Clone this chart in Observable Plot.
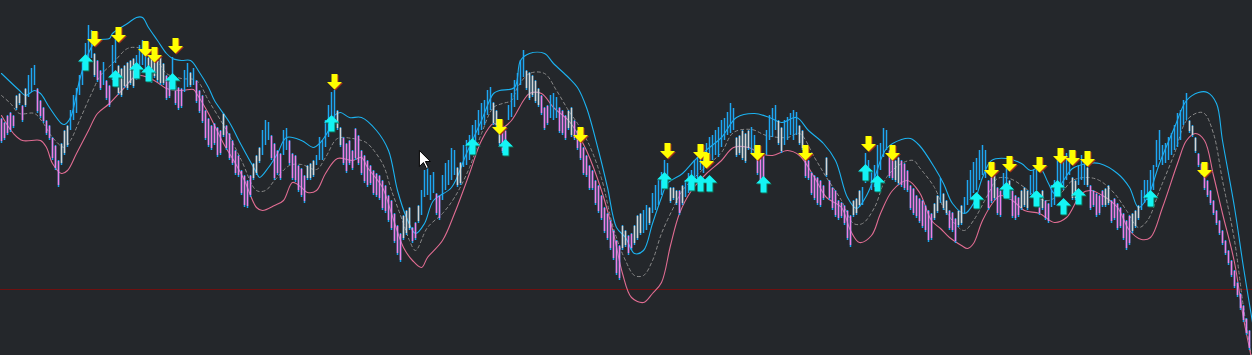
<!DOCTYPE html>
<html>
<head>
<meta charset="utf-8">
<script src="https://cdn.jsdelivr.net/npm/d3@7"></script>
<script src="https://cdn.jsdelivr.net/npm/@observablehq/plot@0.6"></script>
<style>
  html, body { margin: 0; padding: 0; background: #24272b; overflow: hidden; }
  #chart svg { display: block; }
</style>
</head>
<body>
<div id="chart"></div>
<script>
// Bar highs / lows (price in screen units, larger = lower), one bar per index
const hi = [
118,122,115,112,115,95,93,105,88,75,
68,65,88,100,107,120,125,137,145,160,
143,130,125,110,95,88,75,60,43,25,
30,53,60,70,62,80,85,45,35,65,
68,65,62,60,58,55,45,40,50,57,
58,55,60,57,63,75,80,57,85,87,
88,70,63,72,68,80,90,95,110,118,
125,123,127,130,113,125,133,140,150,155,
170,175,180,175,163,155,147,130,120,122,
135,143,150,153,130,128,140,153,155,165,
168,175,165,163,160,155,137,140,120,105,
92,90,110,127,137,143,140,150,128,135,
150,155,160,165,170,173,175,180,185,195,
200,213,225,233,215,210,207,227,222,205,
190,170,167,175,172,193,195,175,163,160,
148,150,167,162,145,140,135,125,120,110,
103,100,90,87,102,110,123,125,130,105,
93,80,73,60,50,70,72,75,80,88,
95,107,105,95,93,97,107,110,115,110,
107,120,130,140,147,155,165,170,180,185,
195,207,213,220,230,240,245,225,230,235,
233,225,215,213,210,205,207,193,185,180,
172,160,163,187,187,190,190,185,180,173,
170,160,157,145,150,143,137,135,130,127,
120,118,112,103,108,137,135,130,133,130,
127,135,153,158,155,130,115,108,105,120,
127,120,117,113,110,112,125,130,155,160,
172,175,177,180,185,157,180,187,190,200,
202,205,210,215,200,198,190,187,153,160,
170,165,145,143,128,130,150,155,160,157,
160,163,170,185,188,195,198,200,205,210,
213,203,195,178,193,200,210,212,218,210,
205,197,180,170,162,158,150,145,150,180,
177,175,187,190,173,168,180,190,195,197,
190,187,190,175,170,165,195,190,200,203,
185,180,160,153,160,153,150,177,180,165,
155,160,167,185,190,193,195,190,188,185,
200,198,203,207,213,220,215,213,210,205,
190,180,180,170,165,140,130,145,143,137,
133,125,113,110,100,93,120,125,137,153,
163,173,180,190,200,210,220,230,240,250,
260,270,282,293,305,318,330
];
const lo = [
143,140,135,132,128,110,105,122,107,97,
92,85,113,118,123,135,140,160,170,187,
165,155,147,130,120,113,95,85,67,60,
58,77,82,90,85,100,107,80,63,95,
97,88,90,85,88,80,75,65,72,80,
83,78,82,85,85,100,98,85,105,110,
108,92,87,87,85,103,113,123,140,147,
150,145,157,155,137,150,160,165,175,177,
195,207,208,197,180,175,163,155,145,140,
160,180,175,180,155,150,165,180,182,192,
197,203,180,180,177,165,160,160,147,137,
130,125,130,147,165,173,165,170,160,165,
175,183,187,185,195,197,200,210,213,222,
230,243,255,262,240,235,230,243,240,223,
215,197,195,200,193,215,220,200,190,185,
180,175,187,185,167,165,160,147,145,135,
130,125,115,110,125,127,145,153,150,120,
117,107,100,85,77,90,100,97,103,107,
115,130,125,118,120,118,133,135,140,130,
137,140,150,160,175,177,190,190,205,213,
220,233,240,250,260,275,280,250,247,255,
250,245,240,235,233,230,225,213,210,205,
195,185,187,203,200,205,215,205,197,193,
190,183,178,170,173,165,167,160,155,157,
147,140,135,133,130,157,155,160,163,150,
153,153,175,183,180,155,140,137,130,145,
153,145,140,135,140,135,145,150,178,180,
195,200,205,207,200,177,200,210,217,220,
218,225,240,247,217,215,207,205,183,180,
190,187,177,170,157,150,178,180,182,185,
187,190,192,210,215,218,223,228,232,242,
240,220,213,203,210,215,230,232,243,227,
225,213,205,198,193,190,180,175,178,210,
203,200,215,217,195,197,200,218,220,217,
210,207,210,195,197,190,215,210,220,223,
207,205,193,185,190,180,175,200,200,185,
180,185,187,210,207,217,215,207,207,205,
223,220,230,228,240,250,245,233,228,220,
210,203,200,193,190,167,160,165,163,160,
155,150,147,140,125,120,133,137,153,167,
175,190,197,205,215,225,235,245,255,265,
277,288,297,310,322,335,350
];
// trend code per bar: b = up (blue), p = down (violet), w = neutral (white)
const trendCodes = (
"pppppwwpwb" + "bbpppppppp" + "wwwbbbbbbb" + "bwppbppbbw" + "wwwwwbbbbw" +
"wwwwwppbpp" + "pbbwbppppp" + "ppppwppppp" + "ppppwwwbbb" + "ppppbbpppp" +
"ppwwwbbbbb" + "bbwwpppppp" + "pppppppppp" + "ppppwwwppw" + "bbbbbppbbb" +
"bbwwbbbbbb" + "bbbbwwwppb" + "bbbbbwwwww" + "pppbbbpppw" + "wppppppppp" +
"pppppppwwp" + "pwwwbbwbbb" + "bbbwwwpwbb" + "bbbbbbbbbb" + "bbbbbwwwww" +
"bbpppbbbbw" + "wbbbbbwwpp" + "pppppwpppp" + "ppppwwwbbb" + "bbbbbbppww" +
"pppppppppp" + "pwwbwwpppw" + "wbbbbbbbbp" + "pwppbbwppp" + "wwwbbbpwpp" +
"bbbbbbbwwb" + "bbwpppppww" + "pppppppwww" + "bbbbbbbbbb" + "bbbbbbwwwp" +
"pppppppppp" + "ppppppp").split("");

// Envelope bands: [bar index, level]
const upperBand = [[0,73],[6,90],[8,95],[11,90],[13,93],[16,107],[20,123],[21,124],[23,117],[26,80],[28,60],[31,42],[33,39],[36,38],[37,33],[42,23],[45,17],[47,17],[49,27],[52,40],[55,53],[57,58],[60,60],[63,60],[66,72],[69,87],[71,100],[76,122],[80,145],[85,172],[86,177],[89,167],[92,153],[95,137],[100,140],[104,147],[106,143],[109,130],[111,115],[113,112],[116,117],[120,117],[125,130],[129,150],[132,190],[135,217],[138,233],[141,223],[144,200],[150,187],[155,153],[160,120],[164,93],[166,90],[171,87],[173,60],[176,53],[181,53],[184,63],[189,77],[192,87],[195,107],[199,150],[202,187],[205,227],[208,237],[211,253],[214,250],[217,223],[220,197],[222,183],[227,173],[231,160],[236,147],[240,137],[245,117],[251,113],[256,117],[260,122],[265,117],[269,130],[274,143],[278,160],[282,197],[285,208],[288,197],[291,177],[295,148],[300,139],[303,138],[306,145],[311,167],[314,183],[317,203],[321,213],[324,203],[327,177],[330,160],[335,158],[340,163],[343,170],[346,167],[349,183],[351,193],[354,180],[357,168],[362,163],[366,163],[372,173],[376,187],[379,207],[382,197],[386,163],[391,127],[395,100],[399,92],[402,92],[405,103],[407,140],[411,207],[414,267],[417,322]];
const middleBand = [[0,95],[3,103],[6,113],[11,113],[14,123],[17,137],[21,147],[23,140],[26,120],[30,93],[33,75],[37,63],[42,48],[45,47],[49,50],[52,60],[55,73],[60,78],[65,80],[69,100],[75,130],[80,160],[85,190],[88,190],[91,180],[96,165],[100,164],[105,169],[108,157],[112,138],[117,138],[120,140],[122,143],[127,163],[130,190],[134,223],[136,240],[138,250],[142,227],[147,213],[151,197],[156,167],[160,133],[164,107],[167,103],[170,100],[172,87],[176,73],[181,73],[185,90],[189,110],[192,123],[196,145],[200,178],[204,228],[208,260],[211,275],[214,275],[217,260],[220,233],[224,207],[227,190],[231,177],[236,163],[240,152],[244,132],[250,129],[255,135],[262,137],[266,133],[271,157],[275,177],[280,200],[284,223],[287,223],[291,207],[295,177],[300,163],[304,160],[306,167],[311,187],[314,207],[319,227],[321,230],[324,220],[329,193],[332,178],[336,178],[341,187],[345,197],[349,200],[353,193],[357,180],[362,177],[366,180],[371,193],[375,210],[379,227],[382,220],[386,190],[391,153],[395,120],[399,112],[401,113],[404,133],[407,180],[411,240],[414,307],[417,362]];
const lowerBand = [[0,115],[4,133],[7,140],[13,140],[15,147],[17,163],[20,173],[22,170],[25,153],[29,130],[32,113],[36,103],[41,87],[45,75],[49,77],[52,82],[55,88],[60,90],[64,89],[65,93],[69,113],[74,143],[78,163],[81,180],[85,207],[87,210],[91,205],[94,200],[97,182],[100,187],[102,192],[105,190],[108,173],[112,158],[117,160],[120,157],[122,167],[127,187],[130,213],[134,247],[137,260],[140,267],[142,257],[147,240],[151,213],[156,173],[160,140],[164,123],[167,127],[170,120],[174,100],[176,93],[180,93],[184,107],[189,120],[192,133],[195,150],[200,190],[204,233],[207,273],[210,297],[214,302],[217,293],[220,282],[223,245],[226,213],[230,190],[235,173],[240,160],[244,147],[249,147],[253,153],[257,155],[262,150],[266,155],[271,177],[275,197],[280,207],[283,230],[286,242],[290,235],[293,213],[297,190],[302,180],[306,192],[310,220],[313,228],[316,237],[320,245],[322,248],[324,243],[327,220],[331,200],[333,195],[337,200],[341,210],[346,213],[351,222],[355,217],[360,193],[363,190],[367,195],[372,207],[376,230],[380,239],[383,237],[387,207],[392,163],[395,140],[398,133],[401,140],[404,175],[407,213],[411,262],[414,318],[417,362]];

// Signal arrows: bar index and level
const sellIdx = [31,39,48,51,58,111,166,193,222,233,235,252,268,289,297,330,336,346,353,357,362,401];
const sellLvl = [38,34,48,54,45,81,126,134,150,151,160,152,152,143,152,169,163,164,155,157,158,169];
const buyIdx  = [28,38,45,49,57,110,157,168,221,230,233,236,254,288,292,325,335,345,352,354,359,383];
const buyLvl  = [62,78,70,73,81,123,146,147,180,182,183,183,184,172,183,200,190,198,188,206,196,198];

const alertLevel = [289];
const cursorPos = [{x: 139.3, y: 150}];

const bars = hi.map((h, i) => ({i, hi: h, lo: lo[i], t: trendCodes[i]}));
const sells = sellIdx.map((x, k) => ({x, y: sellLvl[k]}));
const buys = buyIdx.map((x, k) => ({x, y: buyLvl[k]}));

function poly(pts) {
  return {draw(ctx) {
    ctx.moveTo(pts[0][0], pts[0][1]);
    for (let k = 1; k < pts.length; k++) ctx.lineTo(pts[k][0], pts[k][1]);
    ctx.closePath();
  }};
}
const arrowDown = poly([[0,8],[7.5,0.5],[3,0.5],[3,-7.5],[-3,-7.5],[-3,0.5],[-7.5,0.5]]);
const arrowUp = poly([[0,-8.5],[7.5,-1],[3,-1],[3,8],[-3,8],[-3,-1],[-7.5,-1]]);
const pointer = poly([[0,0],[0,16],[4,12],[7,18],[9,17],[6,11],[11,11]]);

const chart = Plot.plot({
  width: 1252,
  height: 355,
  margin: 0,
  x: {domain: [-1/3, 417], axis: null},
  y: {domain: [0, 355], range: [0, 355], axis: null},
  style: {background: "#24272b", overflow: "hidden"},
  marks: [
    Plot.ruleY(alertLevel, {stroke: "#6e1010", strokeWidth: 1}),
    Plot.line(middleBand, {stroke: "#8a8a8a", strokeWidth: 1, strokeDasharray: "3,3", curve: "catmull-rom", clip: true}),
    Plot.line(upperBand, {stroke: "#1cb2f0", strokeWidth: 1.1, curve: "catmull-rom", clip: true}),
    Plot.line(lowerBand, {stroke: "#e06c92", strokeWidth: 1.1, curve: "catmull-rom", clip: true}),
    Plot.ruleX(bars, {x: "i", y1: "hi", y2: "lo", stroke: "#1ea6f2", strokeWidth: 1.5, clip: true}),
    Plot.ruleX(bars.filter(d => d.t === "p"), {x: "i", y1: "hi", y2: "lo", stroke: "#f07fe6", strokeWidth: 1.5, insetTop: 1, insetBottom: 2, clip: true}),
    Plot.ruleX(bars.filter(d => d.t === "w"), {x: "i", y1: "hi", y2: "lo", stroke: "#d6d6d6", strokeWidth: 1.5, insetTop: 1, insetBottom: 2, clip: true}),
    Plot.dot(sells, {x: "x", y: "y", symbol: arrowDown, r: 6, fill: "#a8321a", stroke: "none", dx: 1, dy: 1}),
    Plot.dot(sells, {x: "x", y: "y", symbol: arrowDown, r: 6, fill: "#ffff00", stroke: "none"}),
    Plot.dot(buys, {x: "x", y: "y", symbol: arrowUp, r: 6, fill: "#0b6e52", stroke: "none", dx: 1, dy: 1}),
    Plot.dot(buys, {x: "x", y: "y", symbol: arrowUp, r: 6, fill: "#14f4f4", stroke: "none"}),
    Plot.dot(cursorPos, {x: "x", y: "y", symbol: pointer, r: 6, fill: "white", stroke: "black", strokeWidth: 1})
  ]
});
document.getElementById("chart").appendChild(chart);
</script>
</body>
</html>
